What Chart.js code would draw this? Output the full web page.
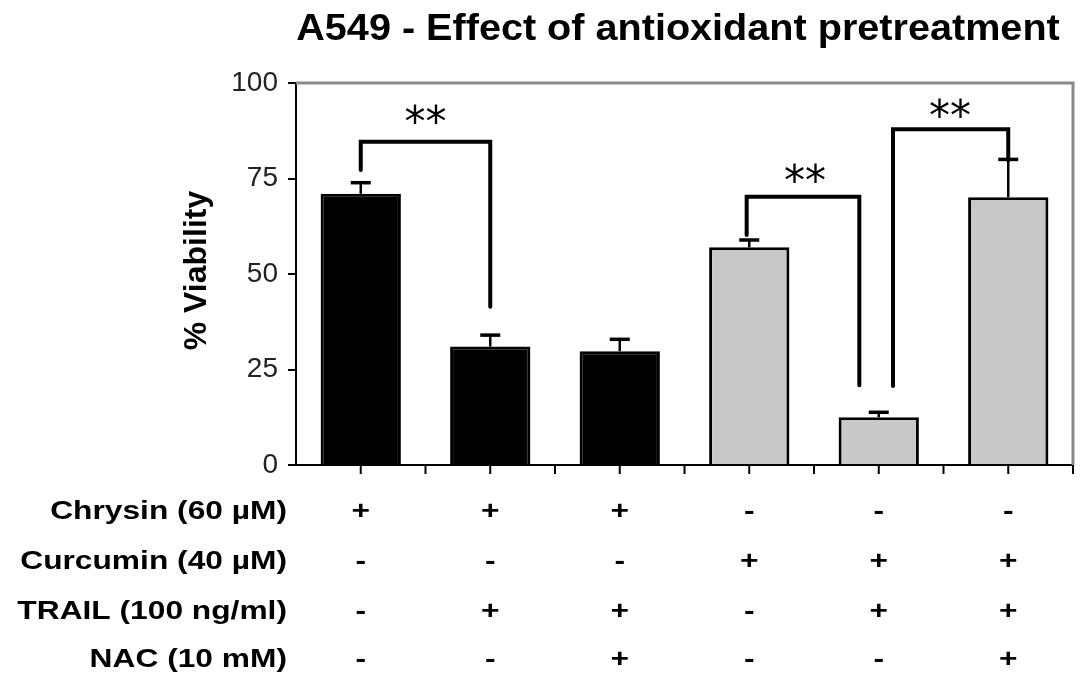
<!DOCTYPE html>
<html>
<head>
<meta charset="utf-8">
<script src="https://cdn.jsdelivr.net/npm/chart.js@4.4.1/dist/chart.umd.min.js"></script>
<style>
  html, body { margin: 0; padding: 0; background: #fff; }
  #wrap { width: 1087px; height: 692px; position: relative; }
</style>
</head>
<body>
<div id="wrap"><canvas id="c"></canvas></div>
<script>
// ---- Data ----
const titleText = 'A549 - Effect of antioxidant pretreatment';
const yTitle = '% Viability';
const groups = ['G1', 'G2', 'G3', 'G4', 'G5', 'G6'];
const viability = [71.0, 31.0, 29.8, 57.0, 12.5, 70.1];
const sem = [2.9, 3.0, 3.1, 1.9, 1.3, 9.9];
const barColors = ['#000000', '#000000', '#000000', '#c8c8c8', '#c8c8c8', '#c8c8c8'];
const yTicks = [0, 25, 50, 75, 100];

const rowLabels = ['Chrysin (60 \u00B5M)', 'Curcumin (40 \u00B5M)', 'TRAIL (100 ng/ml)', 'NAC (10 mM)'];
const chrysin  = ['+', '+', '+', '-', '-', '-'];
const curcumin = ['-', '-', '-', '+', '+', '+'];
const trail    = ['-', '+', '+', '-', '+', '+'];
const nac      = ['-', '-', '+', '-', '-', '+'];
const treatmentRows = [chrysin, curcumin, trail, nac];

// significance brackets: [xLeft, yLeftEnd, xRight, yRightEnd, yTop, starX, starY] in data units
const brackets = [
  [0.0, 77.2, 1.0, 41.4, 84.6, 0.5, 91.3],
  [2.98, 60.2, 3.85, 20.9, 70.2, 3.43, 76.0],
  [4.11, 20.7, 5.0, 79.8, 87.9, 4.55, 92.9]
];
const sigLabel = '**';

// ---- Drawing ----
Chart.defaults.font.family = '"Liberation Sans", Arial, sans-serif';

function line(ctx, x1, y1, x2, y2) {
  ctx.beginPath(); ctx.moveTo(x1, y1); ctx.lineTo(x2, y2); ctx.stroke();
}

const overlay = {
  id: 'overlay',
  beforeDatasetsDraw(chart) {
    const ctx = chart.ctx, ca = chart.chartArea, xs = chart.scales.x;
    ctx.save();
    // grey frame top/right
    ctx.strokeStyle = '#8a8a8a';
    ctx.lineWidth = 3;
    line(ctx, ca.left, ca.top, ca.right + 1.5, ca.top);
    line(ctx, ca.right, ca.top, ca.right, ca.bottom);
    // x tick marks (centres and boundaries)
    ctx.strokeStyle = '#000';
    ctx.lineWidth = 2;
    for (let k = 1; k <= groups.length * 2; k++) {
      const px = xs.getPixelForValue(-0.5 + k * 0.5);
      line(ctx, px, ca.bottom, px, ca.bottom + 9);
    }
    ctx.restore();
  },
  afterDatasetsDraw(chart) {
    const ctx = chart.ctx, xs = chart.scales.x, ys = chart.scales.y;
    ctx.save();
    ctx.strokeStyle = '#000';
    // error bars
    viability.forEach((v, i) => {
      const px = xs.getPixelForValue(i);
      const y0 = ys.getPixelForValue(v), y1 = ys.getPixelForValue(v + sem[i]);
      ctx.lineWidth = 2.5;
      line(ctx, px, y0, px, y1);
      ctx.lineWidth = 3.5;
      line(ctx, px - 10, y1, px + 10, y1);
    });
    // brackets
    ctx.lineWidth = 4;
    ctx.lineJoin = 'miter';
    ctx.lineCap = 'round';
    brackets.forEach(b => {
      const xl = xs.getPixelForValue(b[0]), xr = xs.getPixelForValue(b[2]);
      const yl = ys.getPixelForValue(b[1]), yr = ys.getPixelForValue(b[3]);
      const yt = ys.getPixelForValue(b[4]);
      ctx.beginPath();
      ctx.moveTo(xl, yl); ctx.lineTo(xl, yt); ctx.lineTo(xr, yt); ctx.lineTo(xr, yr);
      ctx.stroke();
      ctx.fillStyle = '#000';
      ctx.font = '42px "DejaVu Sans", sans-serif';
      ctx.textAlign = 'center';
      ctx.textBaseline = 'middle';
      ctx.fillText(sigLabel, xs.getPixelForValue(b[5]), ys.getPixelForValue(b[6]) + 9);
    });
    ctx.restore();
  },
  afterDraw(chart) {
    const ctx = chart.ctx, xs = chart.scales.x;
    ctx.save();
    ctx.fillStyle = '#000';
    // title
    ctx.font = 'bold 36px "Liberation Sans", Arial, sans-serif';
    ctx.textAlign = 'center';
    ctx.textBaseline = 'alphabetic';
    ctx.save();
    ctx.translate(678, 40);
    ctx.scale(1.1, 1);
    ctx.fillText(titleText, 0, 0);
    ctx.restore();
    // y title
    ctx.save();
    ctx.translate(197, 270.5);
    ctx.rotate(-Math.PI / 2);
    ctx.font = 'bold 32px "Liberation Sans", Arial, sans-serif';
    ctx.textAlign = 'center';
    ctx.textBaseline = 'middle';
    ctx.fillText(yTitle, 0, 0);
    ctx.restore();
    // treatment table
    const rowY = [512, 562, 611.5, 660];
    const sx = 1.22;
    ctx.font = 'bold 26px "Liberation Sans", Arial, sans-serif';
    ctx.textBaseline = 'middle';
    rowLabels.forEach((lab, r) => {
      ctx.save();
      ctx.translate(287, rowY[r]);
      ctx.scale(sx, 1);
      ctx.textAlign = 'right';
      ctx.fillText(lab, 0, 0);
      ctx.restore();
      treatmentRows[r].forEach((s, i) => {
        ctx.save();
        ctx.translate(xs.getPixelForValue(i), rowY[r]);
        ctx.scale(sx, 1);
        ctx.textAlign = 'center';
        ctx.fillText(s, 0, 0);
        ctx.restore();
      });
    });
    ctx.restore();
  }
};

new Chart(document.getElementById('c'), {
  type: 'bar',
  data: {
    labels: groups,
    datasets: [{
      data: viability,
      backgroundColor: barColors,
      borderColor: '#000',
      borderWidth: 3,
      categoryPercentage: 1.0,
      barPercentage: 0.62
    }]
  },
  options: {
    responsive: true,
    maintainAspectRatio: false,
    animation: false,
    layout: { padding: { top: 83, right: 14, left: 0, bottom: 0 } },
    plugins: { legend: { display: false }, tooltip: { enabled: false }, title: { display: false } },
    scales: {
      x: {
        ticks: { display: false },
        grid: { display: false },
        border: { display: true, color: '#000', width: 2 },
        afterFit(scale) { scale.height = 227; }
      },
      y: {
        min: 0, max: 100,
        afterBuildTicks(scale) { scale.ticks = yTicks.map(v => ({ value: v })); },
        ticks: { color: '#222', font: { size: 28 }, padding: 10 },
        grid: { display: true, drawOnChartArea: false, drawTicks: true, tickLength: 8, color: '#000', lineWidth: 2 },
        border: { display: true, color: '#000', width: 2 },
        afterFit(scale) { scale.width = 296; }
      }
    }
  },
  plugins: [overlay]
});
</script>
</body>
</html>
